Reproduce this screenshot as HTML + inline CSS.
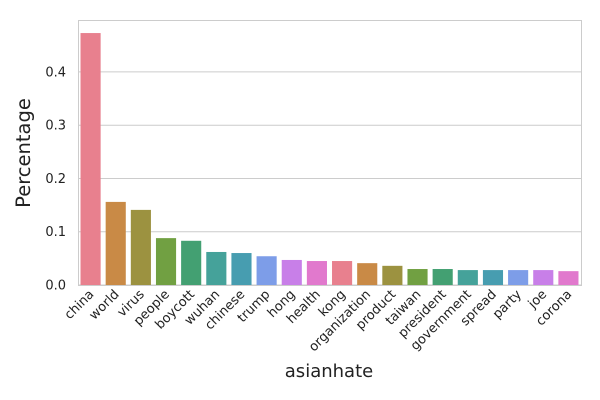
<!DOCTYPE html>
<html><head><meta charset="utf-8"><style>
body{margin:0;background:#fff;}
svg{display:block;font-family:"DejaVu Sans","Liberation Sans",sans-serif;}
</style></head><body>
<svg id="chart" width="600" height="400" viewBox="0 0 600 400" xmlns="http://www.w3.org/2000/svg">
<g id="grid"></g>
<g id="bars"></g>
<rect x="78.5" y="20.5" width="503" height="265" fill="none" stroke="#cccccc" stroke-width="1"/>
<g id="yticks"></g>
<g id="xticks"></g>
<text x="30" y="153" font-size="19.5" fill="#222" text-anchor="middle" transform="rotate(-90 30 153)">Percentage</text>
<text x="329" y="377" font-size="18" fill="#222" text-anchor="middle">asianhate</text>
</svg>
<script>
const categories=["china","world","virus","people","boycott","wuhan","chinese","trump","hong","health","kong","organization","product","taiwan","president","government","spread","party","joe","corona"];
const values=[0.473,0.156,0.141,0.088,0.083,0.062,0.060,0.054,0.047,0.045,0.045,0.041,0.036,0.030,0.030,0.028,0.028,0.028,0.028,0.026];
const yTicks=[0.0,0.1,0.2,0.3,0.4];
const yTickLabels=["0.0","0.1","0.2","0.3","0.4"];
const palette=['#e8808e','#c98a46','#9c9240','#71a042','#43a072','#45a29a','#479db0','#7d9de8','#c87fe8','#e179cd'];
const L=78,R=581,T=20,B=285,ymax=0.4975;
const ns="http://www.w3.org/2000/svg";
const y=v=>B-(v/ymax)*(B-T);
const slot=(R-L)/categories.length;
const x=i=>L+slot*(i+0.5);
function mk(t,a,p){const e=document.createElementNS(ns,t);for(const k in a)e.setAttribute(k,a[k]);p.appendChild(e);return e;}
const g=document.getElementById('grid'),yt=document.getElementById('yticks');
yTicks.forEach((v,i)=>{
 const ln=mk('line',{x1:L,x2:R,y1:y(v),y2:y(v),stroke:'#cccccc','stroke-width':1},g);
 
 
 const t=mk('text',{x:L-12,y:y(v)+4.5,'font-size':13,fill:'#222','text-anchor':'end'},yt);
 t.textContent=yTickLabels[i];
 
 
});
const bg=document.getElementById('bars'),xt=document.getElementById('xticks');
categories.forEach((c,i)=>{
 const w=slot*0.8;
 const r=mk('rect',{x:x(i)-w/2,y:y(values[i]),width:w,height:B-y(values[i]),fill:palette[i%palette.length]},bg);
 
 
 const tx=x(i)+4,ty=B+10;
 const t=mk('text',{x:tx,y:ty,'font-size':13,fill:'#222','text-anchor':'end',transform:`rotate(-45 ${tx} ${ty})`},xt);
 t.textContent=c;
 
 
});
</script>
</body></html>
